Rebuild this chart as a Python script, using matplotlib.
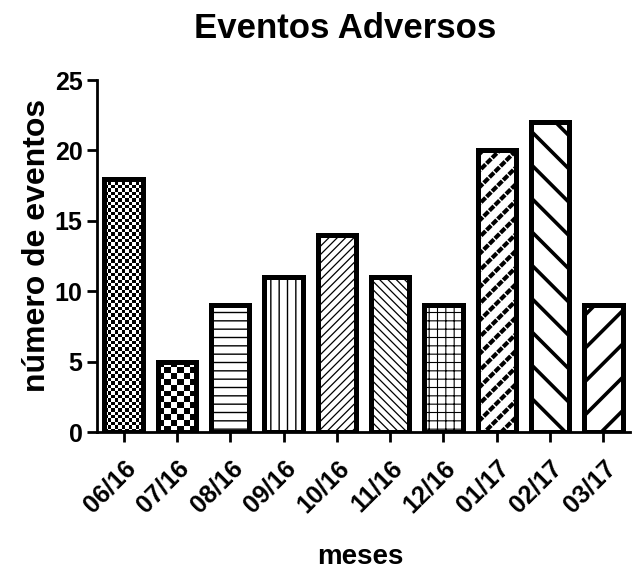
import numpy as np
import matplotlib
matplotlib.use("Agg")
import matplotlib.pyplot as plt

plt.rcParams['font.family'] = ['Liberation Sans', 'DejaVu Sans']
plt.rcParams['font.weight'] = 'bold'

meses = ['06/16', '07/16', '08/16', '09/16', '10/16', '11/16', '12/16', '01/17', '02/17', '03/17']
eventos = [18, 5, 9, 11, 14, 11, 9, 20, 22, 9]
# hatch per bar, None = checkerboard drawn as image
hatches = [None, None, '--', '||', '////', '\\\\\\\\', '++', '//', '\\', '/']
hatch_lw = [0, 0, 1.0, 1.0, 0.9, 0.9, 0.8, 3.0, 2.6, 2.6]
checker_px = {0: 3.4, 1: 6.0}

fig = plt.figure(figsize=(6.43, 5.85), dpi=100)
ax = fig.add_axes([97/643, 1-432/585, (630-97)/643, (432-80)/585])
x = np.arange(len(meses))
w = 0.72

ax.set_xlim(-0.5, 9.5)
ax.set_ylim(0, 25)

bars = ax.bar(x, eventos, width=w, color='white', edgecolor='black', linewidth=0, zorder=2)
for i, b in enumerate(bars):
    if hatches[i]:
        b.set_hatch(hatches[i])
        try:
            b.set_hatch_linewidth(hatch_lw[i])
        except AttributeError:
            pass

# white cross lines on 01/17 to give the brick look
over = ax.bar(x[7], eventos[7], width=w, color='none', edgecolor='white', linewidth=0,
              hatch='\\\\\\', zorder=2.5)
for b in over:
    try:
        b.set_hatch_linewidth(1.0)
    except AttributeError:
        pass

# checkerboards
sx = ax.transData.transform((1, 0))[0] - ax.transData.transform((0, 0))[0]
sy = ax.transData.transform((0, 1))[1] - ax.transData.transform((0, 0))[1]
for i, cell in checker_px.items():
    nx = max(1, int(round(w * sx / cell)))
    ny = max(1, int(round(eventos[i] * sy / cell)))
    board = (np.add.outer(np.arange(ny), np.arange(nx)) % 2).astype(float)
    im = ax.imshow(board, cmap='gray', interpolation='nearest', aspect='auto',
                   extent=(x[i] - w/2, x[i] + w/2, 0, eventos[i]), zorder=2.2)
    im.set_clip_path(bars[i])

ax.bar(x, eventos, width=w, color='none', edgecolor='black', linewidth=3.6, zorder=4)

ax.spines['top'].set_visible(False)
ax.spines['right'].set_visible(False)
ax.spines['left'].set_linewidth(2)
ax.spines['bottom'].set_linewidth(2)
ax.tick_params(axis='both', width=2, length=7, labelsize=18)
ax.tick_params(axis='x', pad=10)
ax.set_yticks([0, 5, 10, 15, 20, 25])
ax.set_xticks(x)
ax.set_xticklabels(meses, rotation=45, ha='right', rotation_mode='anchor')
for lab in ax.get_xticklabels() + ax.get_yticklabels():
    lab.set_fontweight('bold')

ax.set_ylabel('número de eventos', fontsize=23, fontweight='bold')
ax.yaxis.set_label_coords(-0.084, 0.531)
fig.text(360/643, 1-557/585, 'meses', fontsize=20, fontweight='bold', ha='center', va='center')
fig.text(345/643, 1-29/585, 'Eventos Adversos', fontsize=25, fontweight='bold', ha='center', va='center')

fig.savefig('out.png', dpi=100)
